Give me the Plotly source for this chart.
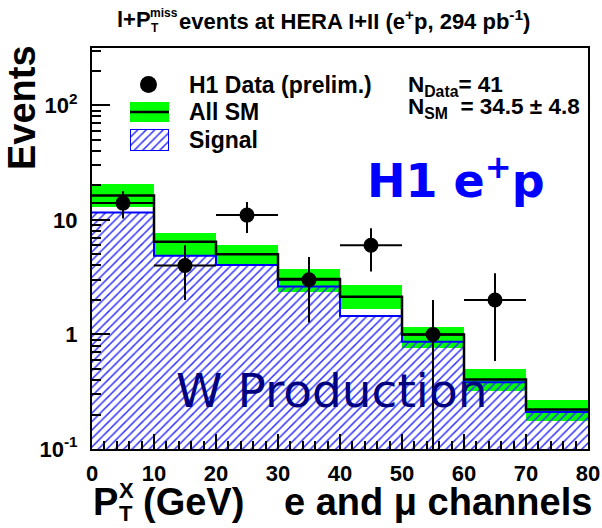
import numpy as np
import plotly.graph_objects as go

# Binning in P_T^X (GeV)
bin_edges = [0, 10, 20, 30, 40, 50, 60, 70, 80]
bin_centers = [5, 15, 25, 35, 45, 55, 65, 75]

# H1 data counts per bin
data_counts = [14, 4, 11, 3, 6, 1, 2, 0]

# Total SM prediction and its uncertainty band
sm_total = [16.3, 6.45, 5.0, 3.05, 2.13, 1.0, 0.405, 0.221]
sm_low = [12.9, 4.93, 4.09, 2.36, 1.68, 0.755, 0.32, 0.175]
sm_high = [20.4, 7.73, 6.03, 3.72, 2.68, 1.17, 0.50, 0.27]

# W production signal contribution
signal = [11.6, 4.85, 4.03, 2.62, 1.445, 0.863, 0.383, 0.21]

y_tickvals = [0.1, 1, 10, 100]
y_ticktext = ["10<sup>-1</sup>", "1", "10", "10<sup>2</sup>"]

FONT = "Liberation Sans"
W, H = 602, 528
PL, PT, PR, PB = 92, 48, 14, 79
PW, PH = W - PL - PR, H - PT - PB


def fx(px):
    return (px - PL) / PW


def fy(py):
    return (PT + PH - py) / PH


widths = [bin_edges[i + 1] - bin_edges[i] for i in range(len(bin_centers))]
hatch = dict(shape="/", fillmode="replace", fgcolor="rgb(50,50,255)",
             bgcolor="rgba(0,0,0,0)", size=6, solidity=0.25)

fig = go.Figure()

# SM uncertainty band
fig.add_trace(go.Bar(
    x=bin_centers, y=[h - l for h, l in zip(sm_high, sm_low)], base=sm_low,
    width=widths, marker=dict(color="#00ff00", line=dict(width=0)),
    showlegend=False, hoverinfo="skip"))

# Hatched signal histogram
fig.add_trace(go.Bar(
    x=bin_centers, y=signal, width=widths,
    marker=dict(color="rgba(0,0,0,0)", line=dict(width=0), pattern=hatch),
    showlegend=False, hoverinfo="skip"))

# Step outlines
fig.add_trace(go.Scatter(
    x=bin_edges, y=signal + [signal[-1]], mode="lines",
    line=dict(shape="hv", color="blue", width=2),
    showlegend=False, hoverinfo="skip"))
fig.add_trace(go.Scatter(
    x=bin_edges, y=sm_total + [sm_total[-1]], mode="lines",
    line=dict(shape="hv", color="black", width=2.5),
    showlegend=False, hoverinfo="skip"))

# Data points with statistical errors
dx, dy, eplus, eminus, ex = [], [], [], [], []
for c, n, w in zip(bin_centers, data_counts, widths):
    if n <= 0:
        continue
    err = np.sqrt(n)
    dx.append(c)
    dy.append(n)
    eplus.append(err)
    eminus.append(n - max(n - err, 1e-3))
    ex.append(w / 2)

fig.add_trace(go.Scatter(
    x=dx, y=dy, mode="markers",
    marker=dict(color="black", size=15),
    error_y=dict(type="data", array=eplus, arrayminus=eminus,
                 color="black", thickness=2, width=0),
    error_x=dict(type="data", array=ex, color="black", thickness=2, width=0),
    showlegend=False, hoverinfo="skip"))

# Hatched box for the legend, on its own small axis pair
fig.add_trace(go.Bar(
    x=[0.5], y=[1], width=[1], xaxis="x2", yaxis="y2",
    marker=dict(color="rgba(0,0,0,0)", line=dict(width=2, color="blue"),
                pattern=hatch),
    showlegend=False, hoverinfo="skip"))

bold = dict(family=FONT, color="black", weight="bold")

fig.update_layout(
    width=W, height=H,
    margin=dict(l=PL, r=PR, t=PT, b=PB, autoexpand=False),
    paper_bgcolor="white", plot_bgcolor="white",
    barmode="overlay", bargap=0, showlegend=False,
    xaxis=dict(range=[0, 80], dtick=10, tick0=0, automargin=False,
               ticks="inside", ticklen=15, tickwidth=2, tickcolor="black",
               minor=dict(dtick=2, ticks="inside", ticklen=8, tickwidth=2,
                          tickcolor="black", showgrid=False),
               showgrid=False, zeroline=False,
               showline=True, linewidth=2, linecolor="black", mirror=True,
               tickfont=dict(size=22, **bold), ticklabelstandoff=4),
    yaxis=dict(type="log", range=[-1, 2.5], automargin=False,
               tickmode="array", tickvals=y_tickvals, ticktext=y_ticktext,
               ticks="inside", ticklen=18, tickwidth=2, tickcolor="black",
               minor=dict(dtick="D1", ticks="inside", ticklen=9, tickwidth=2,
                          tickcolor="black", showgrid=False),
               showgrid=False, zeroline=False,
               showline=True, linewidth=2, linecolor="black", mirror=True,
               tickfont=dict(size=22, **bold), ticklabelstandoff=8),
    xaxis2=dict(domain=[fx(130), fx(169)], range=[0, 1], visible=False,
                anchor="y2", fixedrange=True),
    yaxis2=dict(domain=[fy(151), fy(129)], range=[0, 1], visible=False,
                anchor="x2", fixedrange=True),
)

shapes = [
    # legend: data marker
    dict(type="circle", xref="paper", yref="paper",
         x0=fx(140), x1=fx(157), y0=fy(93), y1=fy(76),
         fillcolor="black", line=dict(width=0)),
    # legend: SM band with central line
    dict(type="rect", xref="paper", yref="paper",
         x0=fx(130), x1=fx(169), y0=fy(122), y1=fy(102),
         fillcolor="#00ff00", line=dict(width=0)),
    dict(type="line", xref="paper", yref="paper",
         x0=fx(130), x1=fx(169), y0=fy(112), y1=fy(112),
         line=dict(color="black", width=2.5)),
]
fig.update_layout(shapes=shapes)


def note(text, px, py, size, xanchor="left", color="black", family=FONT,
         weight="bold", angle=0):
    fig.add_annotation(
        text=text, x=fx(px), y=fy(py), xref="paper", yref="paper",
        xanchor=xanchor, yanchor="middle", showarrow=False, textangle=angle,
        borderpad=0,
        font=dict(family=family, size=size, color=color, weight=weight))


# Title
note("l+P", 116, 20, 22)
note("miss", 149, 13, 12)
note("T", 150, 28, 12)
note("events at HERA I+II (e<sup>+</sup>p, 294 pb<sup>-1</sup>)", 178, 20, 22)

# Axis titles
note("Events", 22, 108, 38, xanchor="center", angle=-90)
note("P", 92, 502, 38)
note("X", 118, 490, 22)
note("T", 118, 513, 22)
note("(GeV)", 142, 502, 38)
note("e and \u03bc channels", 283, 502, 38)

# Legend labels
note("H1 Data (prelim.)", 188, 85, 23)
note("All SM", 188, 112, 23)
note("Signal", 188, 140, 23)

# Event counts
note("N<sub>Data</sub>= 41", 407, 86, 22.5)
note("N<sub>SM</sub> &nbsp;= 34.5 \u00b1 4.8", 407, 108, 22.5)

# Labels inside the frame
note("H1 e<sup>+</sup>p", 366, 178, 46, color="#0000ff", family="DejaVu Sans")
note("W Production", 175, 390, 47, color="#000080", family="DejaVu Sans",
     weight="normal")

fig.write_html("out.html")
